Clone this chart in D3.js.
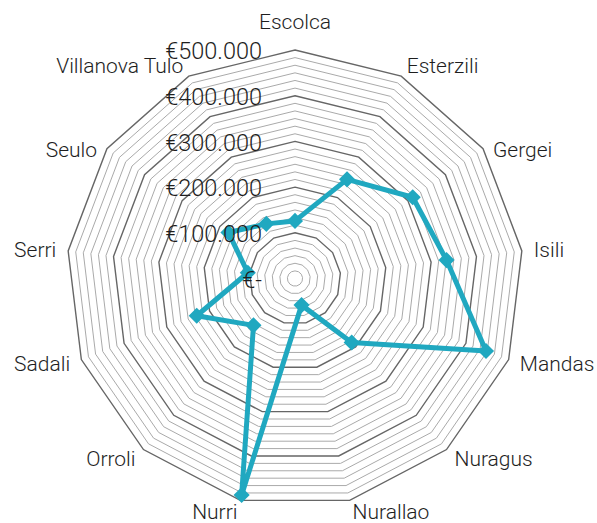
<!DOCTYPE html>
<html>
<head>
<meta charset="utf-8">
<script src="https://cdn.jsdelivr.net/npm/d3@7"></script>
<style>
  body { margin: 0; background: #fff; }
  svg { display: block; }
  .catLabel { font-family: Roboto, "Liberation Sans", Arial, sans-serif; font-weight: 300; font-size: 21px; fill: #1e1e1e; }
  .tickLabel { font-family: Roboto, "Liberation Sans", Arial, sans-serif; font-weight: 300; font-size: 23.5px; fill: #1e1e1e; }
</style>
</head>
<body>
<div id="radar"></div>
<script>
// chart data
var comuni = ["Escolca", "Esterzili", "Gergei", "Isili", "Mandas", "Nuragus", "Nurallao",
  "Nurri", "Orroli", "Sadali", "Serri", "Seulo", "Villanova Tulo"];
var importi = [126000, 245000, 313000, 334000, 447000, 187000, 60000,
  488000, 137000, 230000, 104000, 177000, 135000];
var tickValues = [0, 100000, 200000, 300000, 400000, 500000];
var tickLabels = ["€-", "€100.000", "€200.000", "€300.000", "€400.000", "€500.000"];
var gridStep = 500000 / 30;

// canvas setup
var width = 597;
var height = 523;
var cx = 295;
var cy = 278.5;
var radius = 228.5;

var svg = d3.select("#radar")
  .append("svg")
  .attr("width", width)
  .attr("height", height);

var rScale = d3.scaleLinear().domain([0, 500000]).range([0, radius]);
var aScale = d3.scaleLinear().domain([0, comuni.length]).range([0, 2 * Math.PI]);

var chart = svg.append("g").attr("transform", "translate(" + cx + "," + cy + ")");

// polygon gridlines, darker every 100.000
var gridValues = d3.range(1, 31).map(function(i) { return i * gridStep; });
var ring = d3.lineRadial()
  .angle(function(d, i) { return aScale(i); })
  .radius(function(d) { return rScale(d); })
  .curve(d3.curveLinearClosed);

chart.selectAll(".grid")
  .data(gridValues)
  .enter()
  .append("path")
  .attr("class", "grid")
  .attr("d", function(v) { return ring(comuni.map(function() { return v; })); })
  .attr("fill", "none")
  .attr("stroke", function(v, i) { return (i + 1) % 6 === 0 ? "#666" : "#aaa"; })
  .attr("stroke-width", function(v, i) { return (i + 1) % 6 === 0 ? 1.4 : 1; });

// category labels around the outside
chart.selectAll(".catLabel")
  .data(comuni)
  .enter()
  .append("text")
  .attr("class", "catLabel")
  .attr("x", function(d, i) { return (radius + 12) * Math.sin(aScale(i)); })
  .attr("y", function(d, i) {
    var c = Math.cos(aScale(i));
    var y = -(radius + 12) * c;
    if (c > 0.95) y -= 16;
    else if (c > 0.3 && c < 0.8) y += 8;
    return y;
  })
  .attr("dy", "0.35em")
  .attr("text-anchor", function(d, i) {
    var s = Math.sin(aScale(i));
    return s > 0.05 ? "start" : (s < -0.05 ? "end" : "middle");
  })
  .text(function(d) { return d; });

// the data series
var series = d3.lineRadial()
  .angle(function(d, i) { return aScale(i); })
  .radius(function(d) { return rScale(d); })
  .curve(d3.curveLinearClosed);

chart.append("path")
  .attr("d", series(importi))
  .attr("fill", "none")
  .attr("stroke", "#20a8c0")
  .attr("stroke-width", 5)
  .attr("stroke-linejoin", "round");

chart.selectAll(".marker")
  .data(importi)
  .enter()
  .append("path")
  .attr("class", "marker")
  .attr("d", d3.symbol().type(d3.symbolDiamond2).size(165))
  .attr("transform", function(d, i) {
    var a = aScale(i);
    return "translate(" + rScale(d) * Math.sin(a) + "," + (-rScale(d) * Math.cos(a)) + ")";
  })
  .attr("fill", "#20a8c0");

// value labels on the Escolca axis
chart.selectAll(".tickLabel")
  .data(tickValues)
  .enter()
  .append("text")
  .attr("class", "tickLabel")
  .attr("x", -33)
  .attr("y", function(d) { return -rScale(d) + 1; })
  .attr("dy", "0.35em")
  .attr("text-anchor", "end")
  .text(function(d, i) { return tickLabels[i]; });
</script>
</body>
</html>
